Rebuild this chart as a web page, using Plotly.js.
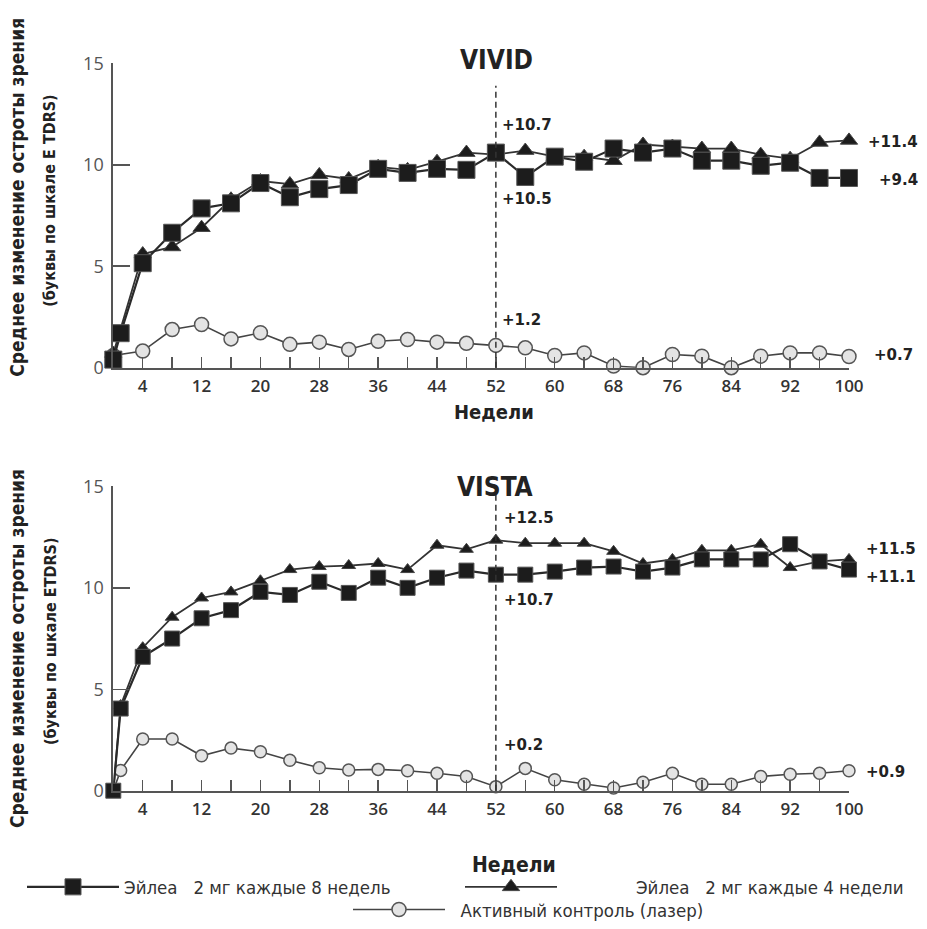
<!DOCTYPE html>
<html>
<head>
<meta charset="utf-8">
<script src="https://cdn.plot.ly/plotly-3.0.1.min.js"></script>
<style>html,body{margin:0;padding:0;background:#fff;}#chart{width:927px;height:929px;}</style>
</head>
<body>
<div id="chart"></div>
<script>
// ---------- DATA ----------
var tickWeeks = [4,8,12,16,20,24,28,32,36,40,44,48,52,56,60,64,68,72,76,80,84,88,92,96,100];
var tickLabels = ['4','','12','','20','','28','','36','','44','','52','','60','','68','','76','','84','','92','','100'];
var yTicks = [0,5,10,15];

// VIVID
var vividWeeksQ8 = [0,1,4,8,12,16,20,24,28,32,36,40,44,48,52,56,60,64,68,72,76,80,84,88,92,96,100];
var vividQ8 = [0.4,1.7,5.15,6.65,7.85,8.1,9.1,8.4,8.8,9.0,9.8,9.6,9.8,9.75,10.6,9.4,10.4,10.15,10.8,10.6,10.8,10.2,10.2,9.95,10.1,9.35,9.35];
var vividWeeksQ4 = [0,4,8,12,16,20,24,28,32,36,40,44,48,52,56,60,64,68,72,76,80,84,88,92,96,100];
var vividQ4 = [0.7,5.6,5.95,6.9,8.3,9.2,9.05,9.5,9.3,9.9,9.75,10.15,10.6,10.5,10.7,10.4,10.4,10.2,11.0,10.9,10.8,10.8,10.5,10.3,11.1,11.2];
var vividWeeksLaser = [0,4,8,12,16,20,24,28,32,36,40,44,48,52,56,60,64,68,72,76,80,84,88,92,96,100];
var vividLaser = [0.6,0.82,1.88,2.13,1.42,1.72,1.15,1.26,0.9,1.3,1.39,1.26,1.2,1.1,0.98,0.6,0.73,0.08,0.0,0.65,0.57,0.0,0.57,0.73,0.73,0.55];

// VISTA
var vistaWeeksQ8 = [0,1,4,8,12,16,20,24,28,32,36,40,44,48,52,56,60,64,68,72,76,80,84,88,92,96,100];
var vistaQ8 = [0,4.05,6.6,7.5,8.5,8.9,9.8,9.65,10.3,9.75,10.5,10.0,10.5,10.85,10.65,10.65,10.8,11.0,11.05,10.8,11.0,11.4,11.4,11.4,12.15,11.3,10.9];
var vistaWeeksQ4 = [0,1,4,8,12,16,20,24,28,32,36,40,44,48,52,56,60,64,68,72,76,80,84,88,92,96,100];
var vistaQ4 = [0,4.2,7.05,8.55,9.5,9.8,10.35,10.9,11.05,11.1,11.2,10.9,12.1,11.9,12.35,12.2,12.2,12.2,11.8,11.2,11.4,11.85,11.85,12.15,11.0,11.3,11.4];
var vistaWeeksLaser = [0,1,4,8,12,16,20,24,28,32,36,40,44,48,52,56,60,64,68,72,76,80,84,88,92,96,100];
var vistaLaser = [0,1.0,2.55,2.55,1.72,2.1,1.92,1.5,1.13,1.02,1.05,0.98,0.86,0.7,0.2,1.1,0.54,0.32,0.13,0.42,0.86,0.32,0.32,0.7,0.81,0.86,0.98];

var seriesNames = ['Эйлеа\u00a0\u00a0\u00a02\u00a0мг каждые 8 недель',
                   '\u00a0'.repeat(14) + 'Эйлеа\u00a0\u00a0\u00a02\u00a0мг каждые 4 недели',
                   '\u00a0\u00a0Активный контроль (лазер)'];
var chartTitles = ['VIVID','VISTA'];
var xTitle = 'Недели';
var yTitle1 = 'Среднее изменение остроты зрения';
var yTitle2Top = '(буквы по шкале E TDRS)';
var yTitle2Bottom = '(буквы по шкале ETDRS)';
var endLabelsTop = ['+10.7','+10.5','+1.2','+11.4','+9.4','+0.7'];
var endLabelsBottom = ['+12.5','+10.7','+0.2','+11.5','+11.1','+0.9'];

// ---------- STYLE ----------
var W = 927, H = 929;
function px(x){return x/W;}
function py(y){return 1 - y/H;}
var condFont = 'DejaVu Sans Condensed, Liberation Sans Narrow, DejaVu Sans, sans-serif';
var dark = '#222';

function q8Trace(x, y, xa, ya, size, show){
  return {x:x, y:y, xaxis:xa, yaxis:ya, type:'scatter', mode:'lines+markers', name:seriesNames[0],
    legend:'legend', showlegend:show, cliponaxis:false,
    line:{color:'#2a2a2a', width:2.2},
    marker:{symbol:'square', size:size, color:'#1c1c1c', line:{color:'#555', width:1}}};
}
function q4Trace(x, y, xa, ya, size, show){
  return {x:x, y:y, xaxis:xa, yaxis:ya, type:'scatter', mode:'lines+markers', name:seriesNames[1],
    legend:'legend2', showlegend:show, cliponaxis:false,
    line:{color:'#333', width:1.8},
    marker:{symbol:'triangle-up', size:size, color:'#1c1c1c', line:{color:'#444', width:1}}};
}
function laserTrace(x, y, xa, ya, size, show){
  return {x:x, y:y, xaxis:xa, yaxis:ya, type:'scatter', mode:'lines+markers', name:seriesNames[2],
    legend:'legend3', showlegend:show, cliponaxis:false,
    line:{color:'#444', width:1.6},
    marker:{symbol:'circle', size:size, color:'#e4e4e4', line:{color:'#555', width:1.5}}};
}

var data = [
  laserTrace(vividWeeksLaser, vividLaser, 'x', 'y', 14, true),
  q4Trace(vividWeeksQ4, vividQ4, 'x', 'y', 15, true),
  q8Trace(vividWeeksQ8, vividQ8, 'x', 'y', 17, true),
  laserTrace(vistaWeeksLaser, vistaLaser, 'x2', 'y2', 12, false),
  q4Trace(vistaWeeksQ4, vistaQ4, 'x2', 'y2', 12, false),
  q8Trace(vistaWeeksQ8, vistaQ8, 'x2', 'y2', 15, false)
];

function xAxis(anchor){
  return {domain:[px(113.3), px(849)], range:[0,100], anchor:anchor,
    showline:true, linecolor:'#555', linewidth:2, showgrid:false, zeroline:false,
    ticks:'inside', ticklen:11, tickwidth:1.5, tickcolor:'#555',
    tickmode:'array', tickvals:tickWeeks, ticktext:tickLabels,
    tickfont:{family:'Open Sans, sans-serif', size:17, color:'#333', weight:600},
    ticklabelstandoff:2, fixedrange:true};
}
function yAxis(anchor, top, bottom){
  return {domain:[py(bottom), py(top)], range:[0,15], anchor:anchor,
    showline:true, linecolor:'#555', linewidth:2, showgrid:false, zeroline:false,
    ticks:'inside', ticklen:17, tickwidth:1.5, tickcolor:'#555',
    tickmode:'array', tickvals:yTicks,
    tickfont:{family:'Open Sans, sans-serif', size:18, color:'#555'},
    ticklabelstandoff:4, fixedrange:true};
}

var annFont = {family:'DejaVu Sans, sans-serif', size:15, color:dark, weight:'bold'};
function lbl(text, xpx, yval, yref){
  return {text:text, xref:'paper', x:px(xpx), xanchor:'left', yref:yref, y:yval, yanchor:'middle',
    showarrow:false, font:annFont};
}

var annotations = [
  {text:chartTitles[0], xref:'paper', yref:'paper', x:px(496), y:py(61), xanchor:'center', yanchor:'middle', showarrow:false,
   font:{family:condFont, size:26, color:dark, weight:'bold'}},
  {text:chartTitles[1], xref:'paper', yref:'paper', x:px(495), y:py(492), xanchor:'center', yanchor:'middle', showarrow:false,
   font:{family:condFont, size:26, color:dark, weight:'bold'}},
  {text:xTitle, xref:'paper', yref:'paper', x:px(494), y:py(416), xanchor:'center', yanchor:'middle', showarrow:false,
   font:{family:condFont, size:20, color:dark, weight:'bold'}},
  {text:xTitle, xref:'paper', yref:'paper', x:px(514), y:py(874), xanchor:'center', yanchor:'middle', showarrow:false,
   font:{family:condFont, size:21, color:dark, weight:'bold'}},
  {text:yTitle1, xref:'paper', yref:'paper', x:px(17), y:py(200), xanchor:'center', yanchor:'middle', textangle:-90, showarrow:false,
   font:{family:condFont, size:19, color:dark, weight:'bold'}},
  {text:yTitle2Top, xref:'paper', yref:'paper', x:px(50), y:py(203), xanchor:'center', yanchor:'middle', textangle:-90, showarrow:false,
   font:{family:condFont, size:16, color:dark, weight:'bold'}},
  {text:yTitle1, xref:'paper', yref:'paper', x:px(17), y:py(656), xanchor:'center', yanchor:'middle', textangle:-90, showarrow:false,
   font:{family:condFont, size:19, color:dark, weight:'bold'}},
  {text:yTitle2Bottom, xref:'paper', yref:'paper', x:px(50), y:py(648), xanchor:'center', yanchor:'middle', textangle:-90, showarrow:false,
   font:{family:condFont, size:16, color:dark, weight:'bold'}},
  lbl(endLabelsTop[0], 500, 11.94, 'y'),
  lbl(endLabelsTop[1], 500, 8.3, 'y'),
  lbl(endLabelsTop[2], 500, 2.36, 'y'),
  lbl(endLabelsTop[3], 866, 11.14, 'y'),
  lbl(endLabelsTop[4], 877, 9.27, 'y'),
  lbl(endLabelsTop[5], 872, 0.65, 'y'),
  lbl(endLabelsBottom[0], 502, 13.46, 'y2'),
  lbl(endLabelsBottom[1], 502, 9.4, 'y2'),
  lbl(endLabelsBottom[2], 502, 2.24, 'y2'),
  lbl(endLabelsBottom[3], 864, 11.92, 'y2'),
  lbl(endLabelsBottom[4], 864, 10.54, 'y2'),
  lbl(endLabelsBottom[5], 864, 0.94, 'y2')
];

var shapes = [
  {type:'line', xref:'x', yref:'y', x0:52, x1:52, y0:0, y1:13.9, line:{color:'#333', width:1.5, dash:'6px,4px'}},
  {type:'line', xref:'x2', yref:'y2', x0:52, x1:52, y0:0, y1:14.6, line:{color:'#333', width:1.5, dash:'6px,4px'}}
];

var legFont = {family:condFont, size:18.5, color:'#333'};
function leg(xpx, ypx){
  return {x:px(xpx), y:py(ypx), xanchor:'left', yanchor:'middle', bgcolor:'rgba(0,0,0,0)', borderwidth:0,
    font:legFont, itemwidth:92, itemclick:false, itemdoubleclick:false};
}

var layout = {
  width:W, height:H, margin:{l:0,r:0,t:0,b:0}, paper_bgcolor:'#fff', plot_bgcolor:'rgba(0,0,0,0)',
  xaxis:xAxis('y'), yaxis:yAxis('x', 64, 371.7),
  xaxis2:xAxis('y2'), yaxis2:yAxis('x2', 491.7, 799.3),
  annotations:annotations, shapes:shapes,
  legend:leg(22, 897), legend2:leg(460, 897), legend3:leg(348, 920),
  showlegend:true
};

Plotly.newPlot('chart', data, layout, {displayModeBar:false, staticPlot:true});
</script>
</body>
</html>
